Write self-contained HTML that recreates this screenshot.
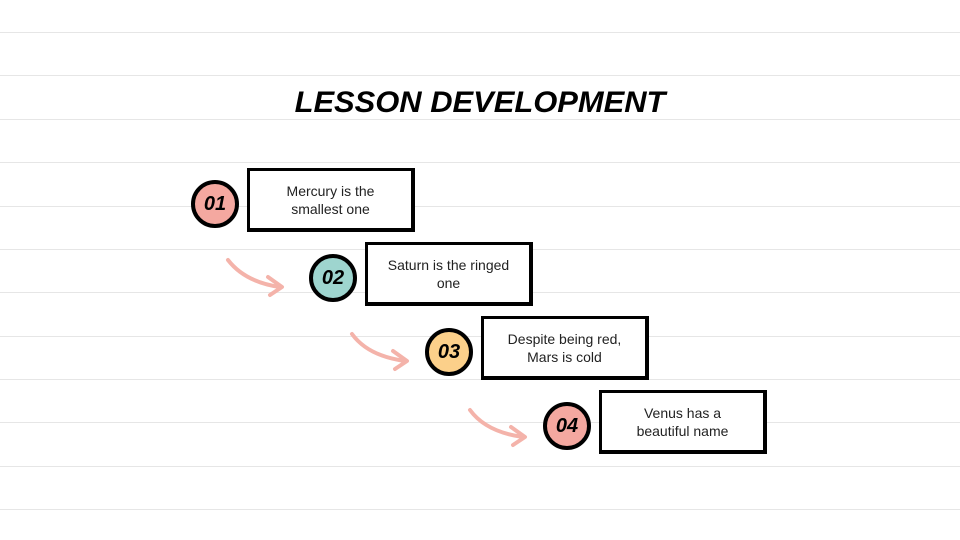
<!DOCTYPE html>
<html><head><meta charset="utf-8"><style>
html,body{margin:0;padding:0}
body{width:960px;height:540px;position:relative;background:#fff;overflow:hidden;font-family:"Liberation Sans",sans-serif}
.line{position:absolute;left:0;width:960px;height:1px;background:#e6e6e6}
.title{position:absolute;left:0;width:960px;top:86px;text-align:center;font-size:30px;font-weight:900;font-style:italic;letter-spacing:0px;color:#000;transform:scaleX(1.03)}
.box{position:absolute;width:168px;height:64px;border:3px solid #000;border-right-width:4px;border-bottom-width:4px;background:#fff;display:flex;align-items:center;justify-content:center;text-align:center;font-size:14px;line-height:18px;color:#222;box-sizing:border-box}
.c{position:absolute;width:48px;height:48px;border:4px solid #000;border-radius:50%;box-sizing:border-box;display:flex;align-items:center;justify-content:center;font-weight:900;font-size:20px;font-style:italic}
</style></head><body>
<div class="line" style="top:32px"></div>
<div class="line" style="top:75px"></div>
<div class="line" style="top:119px"></div>
<div class="line" style="top:162px"></div>
<div class="line" style="top:206px"></div>
<div class="line" style="top:249px"></div>
<div class="line" style="top:292px"></div>
<div class="line" style="top:336px"></div>
<div class="line" style="top:379px"></div>
<div class="line" style="top:422px"></div>
<div class="line" style="top:466px"></div>
<div class="line" style="top:509px"></div>
<div class="title">LESSON DEVELOPMENT</div>

<div class="c" style="left:191px;top:180px;background:#f4a8a0">01</div>
<div class="box" style="left:247px;top:168px">Mercury is the<br>smallest one</div>
<div class="c" style="left:309px;top:254px;background:#9ed5cf">02</div>
<div class="box" style="left:365px;top:242px">Saturn is the ringed<br>one</div>
<div class="c" style="left:425px;top:328px;background:#fcd08a">03</div>
<div class="box" style="left:481px;top:316px">Despite being red,<br>Mars is cold</div>
<div class="c" style="left:543px;top:402px;background:#f4a8a0">04</div>
<div class="box" style="left:599px;top:390px">Venus has a<br>beautiful name</div>

<svg width="960" height="540" style="position:absolute;left:0;top:0" fill="none" stroke="#f4b3aa" stroke-width="4" stroke-linecap="round" stroke-linejoin="round">
<path d="M228 260 Q245 282 280 287 M268 277 L282 287 L270 295"/>
<path d="M352 334 Q368 356 405 361 M393 351 L407 361 L395 369"/>
<path d="M470 410 Q486 432 523 437 M511 427 L525 437 L513 445"/>
</svg>
</body></html>
